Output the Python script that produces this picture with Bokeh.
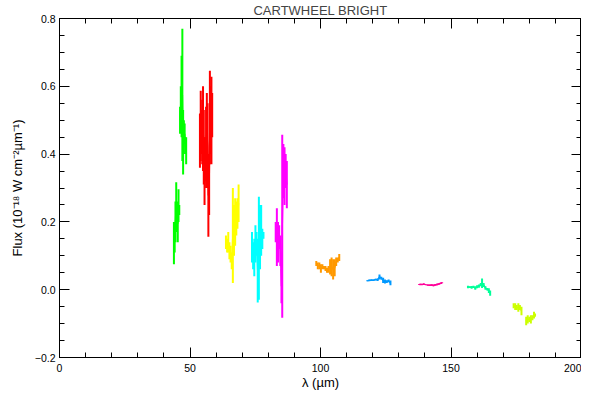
from bokeh.plotting import figure
from bokeh.models import LinearAxis, SingleIntervalTicker, CustomJSTickFormatter, Range1d
from bokeh.embed import file_html
from bokeh.resources import INLINE

# ---- data ----
green_a_x = [43.84, 44.13, 44.43, 44.72, 45.01, 45.31, 45.60, 45.89]
green_a_lo = [0.075, 0.11, 0.14, 0.18, 0.17, 0.14, 0.20, 0.22]
green_a_hi = [0.20, 0.20, 0.26, 0.317, 0.26, 0.25, 0.296, 0.25]

green_b_x = [46.19, 46.48, 46.77, 47.07, 47.36, 47.65, 47.95, 48.24, 48.53]
green_b_lo = [0.46, 0.47, 0.45, 0.38, 0.34, 0.40, 0.43, 0.40, 0.37]
green_b_hi = [0.54, 0.60, 0.69, 0.77, 0.53, 0.50, 0.49, 0.45, 0.45]

red_x = [53.81, 54.11, 54.40, 54.69, 54.99, 55.28, 55.57, 55.87, 56.16,
         56.45, 56.74, 57.04, 57.33, 57.62, 57.92, 58.21, 58.50]
red_lo = [0.36, 0.38, 0.40, 0.37, 0.35, 0.31, 0.25, 0.32, 0.30,
          0.35, 0.30, 0.156, 0.22, 0.37, 0.40, 0.37, 0.45]
red_hi = [0.52, 0.587, 0.53, 0.56, 0.60, 0.53, 0.45, 0.45, 0.54,
          0.58, 0.55, 0.40, 0.38, 0.646, 0.60, 0.628, 0.58]

yellow_x = [63.78, 64.22, 64.66, 65.10, 65.54, 65.98, 66.42, 66.86, 67.30, 67.74, 68.18, 68.62]
yellow_lo = [0.12, 0.11, 0.11, 0.09, 0.08, 0.06, 0.02, 0.10, 0.13, 0.16, 0.18, 0.20]
yellow_hi = [0.16, 0.15, 0.17, 0.14, 0.13, 0.11, 0.30, 0.25, 0.27, 0.26, 0.27, 0.31]

cyan_x = [73.75, 74.19, 74.63, 75.07, 75.51, 75.95, 76.39, 76.83, 77.27, 77.71, 78.15]
cyan_lo = [0.08, 0.06, 0.04, 0.08, 0.10, -0.038, -0.03, 0.06, 0.10, 0.12, 0.15]
cyan_hi = [0.17, 0.14, 0.15, 0.19, 0.17, 0.15, 0.274, 0.25, 0.25, 0.18, 0.17]

magenta_x = [82.84, 83.28, 83.72, 84.16, 84.60, 85.04, 85.34, 85.78, 86.22, 86.66, 87.10]
magenta_lo = [0.14, 0.07, 0.08, 0.12, 0.07, -0.04, -0.083, 0.27, 0.25, 0.30, 0.24]
magenta_hi = [0.20, 0.24, 0.20, 0.19, 0.16, 0.06, 0.457, 0.43, 0.42, 0.40, 0.38]

orange_x = [98.39, 98.97, 99.56, 100.15, 100.73, 101.32, 101.91, 102.49,
            103.08, 103.67, 104.25, 104.84, 105.43, 106.01, 106.60, 107.18]
orange_lo = [0.07, 0.06, 0.06, 0.05, 0.06, 0.06, 0.055, 0.05,
             0.05, 0.045, 0.04, 0.03, 0.04, 0.07, 0.08, 0.085]
orange_hi = [0.085, 0.08, 0.08, 0.075, 0.075, 0.07, 0.07, 0.065,
             0.07, 0.09, 0.095, 0.09, 0.09, 0.095, 0.095, 0.105]

blue_x = [117.9, 118.7, 119.5, 120.3, 121.1, 121.9, 122.6, 123.3, 124.0, 124.7, 125.4, 126.1, 126.8]
blue_lo = [0.025, 0.025, 0.027, 0.026, 0.028, 0.026, 0.030, 0.030, 0.020, 0.018, 0.020, 0.022, 0.013]
blue_hi = [0.028, 0.030, 0.030, 0.030, 0.032, 0.033, 0.045, 0.038, 0.035, 0.030, 0.028, 0.030, 0.027]

pink_x = [137.8, 138.4, 139.0, 139.6, 140.2, 141.2, 141.9, 142.6, 143.3, 144.0, 144.7, 145.4, 146.1, 146.6]
pink_lo = [0.014, 0.015, 0.014, 0.015, 0.014, 0.012, 0.011, 0.012, 0.010, 0.012, 0.013, 0.015, 0.017, 0.019]
pink_hi = [0.017, 0.017, 0.017, 0.018, 0.016, 0.015, 0.015, 0.016, 0.015, 0.017, 0.018, 0.019, 0.021, 0.022]

aqua_x = [156.5, 157.2, 157.9, 158.6, 159.3, 160.0, 160.7, 161.4, 161.9, 162.5, 163.2, 163.9, 164.5, 165.0]
aqua_lo = [0.004, 0.005, 0.003, 0.005, 0.0, 0.004, 0.006, 0.010, 0.005, 0.008, 0.0, -0.002, -0.010, -0.018]
aqua_hi = [0.012, 0.010, 0.011, 0.012, 0.010, 0.013, 0.015, 0.020, 0.033, 0.020, 0.010, 0.005, 0.004, -0.002]

lime_a_x = [174.0, 174.6, 175.2, 175.8, 176.4, 177.0]
lime_a_lo = [-0.055, -0.060, -0.060, -0.065, -0.060, -0.075]
lime_a_hi = [-0.040, -0.040, -0.045, -0.040, -0.045, -0.050]

lime_b_x = [178.8, 179.4, 180.0, 180.6, 181.2, 181.8, 182.2]
lime_b_lo = [-0.105, -0.100, -0.095, -0.100, -0.090, -0.085, -0.080]
lime_b_hi = [-0.080, -0.075, -0.080, -0.075, -0.075, -0.065, -0.070]

bands = [
    (green_a_x, green_a_lo, green_a_hi, "#00ff00"),
    (green_b_x, green_b_lo, green_b_hi, "#00ff00"),
    (red_x, red_lo, red_hi, "#ff0000"),
    (yellow_x, yellow_lo, yellow_hi, "#ffff00"),
    (cyan_x, cyan_lo, cyan_hi, "#00ffff"),
    (magenta_x, magenta_lo, magenta_hi, "#ff00ff"),
    (orange_x, orange_lo, orange_hi, "#ff9900"),
    (blue_x, blue_lo, blue_hi, "#0099ff"),
    (pink_x, pink_lo, pink_hi, "#ff0099"),
    (aqua_x, aqua_lo, aqua_hi, "#00ff99"),
    (lime_a_x, lime_a_lo, lime_a_hi, "#ccff00"),
    (lime_b_x, lime_b_lo, lime_b_hi, "#ccff00"),
]

x_range = (0, 200)
y_range = (-0.2, 0.8)
title_text = "CARTWHEEL BRIGHT"
x_label = "λ (µm)"
y_label = "Flux (10⁻¹⁸ W cm⁻²µm⁻¹)"

FONT = "Liberation Sans"

p = figure(frame_width=522, frame_height=339, output_backend="svg", toolbar_location=None,
           x_range=Range1d(*x_range), y_range=Range1d(*y_range),
           x_axis_type=None, y_axis_type=None,
           min_border_left=0, min_border_right=0, min_border_top=0, min_border_bottom=0)
p.styles = {"margin-left": "6px"}

p.title.text = title_text
p.title.align = "center"
p.title.text_font = FONT
p.title.text_font_size = "13px"
p.title.text_font_style = "normal"
p.title.standoff = 1
p.title.offset = 0

p.grid.visible = False
p.outline_line_color = "black"
p.outline_line_width = 1
p.background_fill_color = "white"
p.border_fill_color = "white"

yfmt = CustomJSTickFormatter(code="return tick.toFixed(1).replace('-', '\u2212');")
blank = CustomJSTickFormatter(code="return '';")


def style_axis(ax, labels=True):
    ax.axis_line_color = "black"
    ax.major_tick_line_color = "black"
    ax.minor_tick_line_color = "black"
    ax.major_tick_in = 10
    ax.major_tick_out = 0
    ax.minor_tick_in = 5
    ax.minor_tick_out = 0
    if labels:
        ax.major_label_text_font = FONT
        ax.major_label_text_font_size = "10.5px"
        ax.major_label_text_color = "black"
        ax.major_label_standoff = 6
        ax.axis_label_text_font = FONT
        ax.axis_label_text_font_size = "13px"
        ax.axis_label_text_font_style = "normal"
        ax.axis_label_text_color = "black"
        ax.axis_label_standoff = 6
    else:
        ax.formatter = blank
        ax.major_label_text_font_size = "0px"
        ax.major_label_standoff = 0
        ax.axis_label = None
        ax.axis_label_standoff = 0


xb = LinearAxis(ticker=SingleIntervalTicker(interval=50, num_minor_ticks=5), axis_label=x_label)
style_axis(xb)
xb.axis_label_standoff = 0
p.add_layout(xb, "below")

xt = LinearAxis(ticker=SingleIntervalTicker(interval=50, num_minor_ticks=5))
style_axis(xt, labels=False)
p.add_layout(xt, "above")

yl = LinearAxis(ticker=SingleIntervalTicker(interval=0.2, num_minor_ticks=4),
                formatter=yfmt, axis_label=y_label)
style_axis(yl)
yl.major_label_standoff = 4
yl.axis_label_standoff = 7
p.add_layout(yl, "left")

yr = LinearAxis(ticker=SingleIntervalTicker(interval=0.2, num_minor_ticks=4))
style_axis(yr, labels=False)
p.add_layout(yr, "right")

for bx, lo, hi, col in bands:
    mid = [(a + b) / 2 for a, b in zip(lo, hi)]
    p.segment(x0=bx, y0=lo, x1=bx, y1=hi, line_color=col, line_width=2)
    p.line(bx, mid, line_color=col, line_width=1.5)

open("out.html", "w").write(file_html(p, INLINE))
